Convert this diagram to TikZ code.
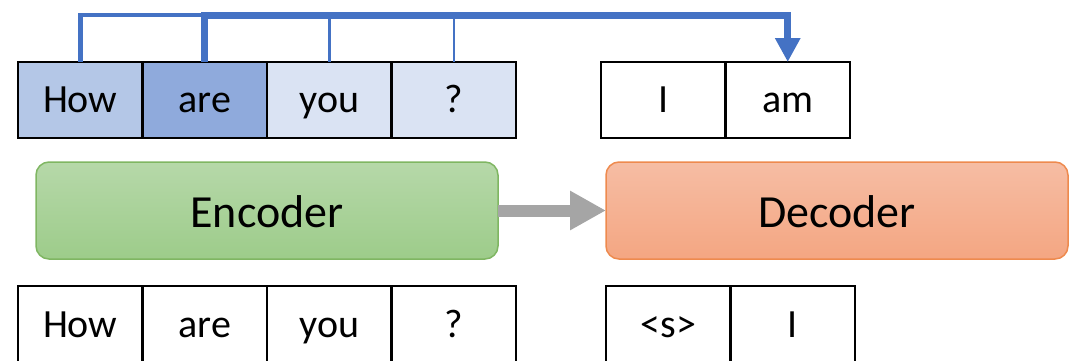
\documentclass[tikz,border=0pt]{standalone}
\usepackage{fontspec}
\setmainfont{Carlito}
\usetikzlibrary{arrows.meta}
\definecolor{linkblue}{HTML}{4472C4}
\definecolor{howfill}{HTML}{B4C7E7}
\definecolor{arefill}{HTML}{8FAADC}
\definecolor{lightfill}{HTML}{DAE3F3}
\definecolor{encborder}{HTML}{7FB662}
\definecolor{enctop}{RGB}{182,216,169}
\definecolor{encbot}{RGB}{157,204,138}
\definecolor{decborder}{HTML}{EE8A4E}
\definecolor{dectop}{RGB}{246,189,164}
\definecolor{decbot}{RGB}{244,166,130}
\definecolor{flowgray}{HTML}{A5A5A5}
\tikzset{
  cell/.style={draw=black, line width=2.5pt, minimum width=124.5pt, minimum height=76pt,
    inner sep=0pt, outer sep=0pt, anchor=north west, font=\fontsize{40}{46}\selectfont,
    text height=30pt, text depth=6pt},
  lowcell/.style={cell, minimum height=90pt, text height=24pt, text depth=12pt},
  block/.style={rounded corners=13pt, line width=1.5pt, minimum width=462pt,
    minimum height=97pt, inner sep=0pt, outer sep=0pt, anchor=north west,
    font=\fontsize{46}{52}\selectfont, text height=36pt, text depth=3pt},
  link/.style={draw=linkblue, line join=miter},
}
\begin{document}
\begin{tikzpicture}[x=1pt,y=-1pt]
\useasboundingbox (0,0) rectangle (1074,360);
\clip (0,0) rectangle (1074,360);

% encoder input / attention row
\node[cell, fill=howfill]   (how)  at (18,62)    {How};
\node[cell, fill=arefill]   (are)  at (how.north east) {are};
\node[cell, fill=lightfill] (you)  at (are.north east) {you};
\node[cell, fill=lightfill] (qm)   at (you.north east) {?};

% decoder output row
\node[cell] (oI)  at (601,62) {I};
\node[cell] (oam) at (oI.north east) {am};

% encoder and decoder blocks
\node[block, draw=encborder, top color=enctop, bottom color=encbot] (enc) at (36,162) {Encoder};
\node[block, draw=decborder, top color=dectop, bottom color=decbot] (dec) at (606,162) {Decoder};
\draw[flowgray, line width=12pt, -{Triangle[width=37pt,length=36pt]}] (enc.east) -- (dec.west);

% bottom input rows
\node[lowcell] (bhow) at (18,286)   {How};
\node[lowcell] (bare) at (bhow.north east) {are};
\node[lowcell] (byou) at (bare.north east) {you};
\node[lowcell] (bqm)  at (byou.north east) {?};
\node[lowcell] (bs)   at (606,286)  {<s>};
\node[lowcell] (bI)   at (bs.north east) {I};

% attention links
\coordinate (rail) at (0,15);
\draw[link, line width=2.5pt] (you.north) -- (you.north |- rail);
\draw[link, line width=2.5pt] (qm.north) -- (qm.north |- rail);
\draw[link, line width=4.5pt] (how.north) -- (how.north |- rail) -- (are.north |- rail);
\draw[link, line width=7pt, -{Triangle[width=24pt,length=24pt]}]
  (are.north) -- (are.north |- rail) -- (oam.north |- rail) -- (oam.north);
\end{tikzpicture}
\end{document}
